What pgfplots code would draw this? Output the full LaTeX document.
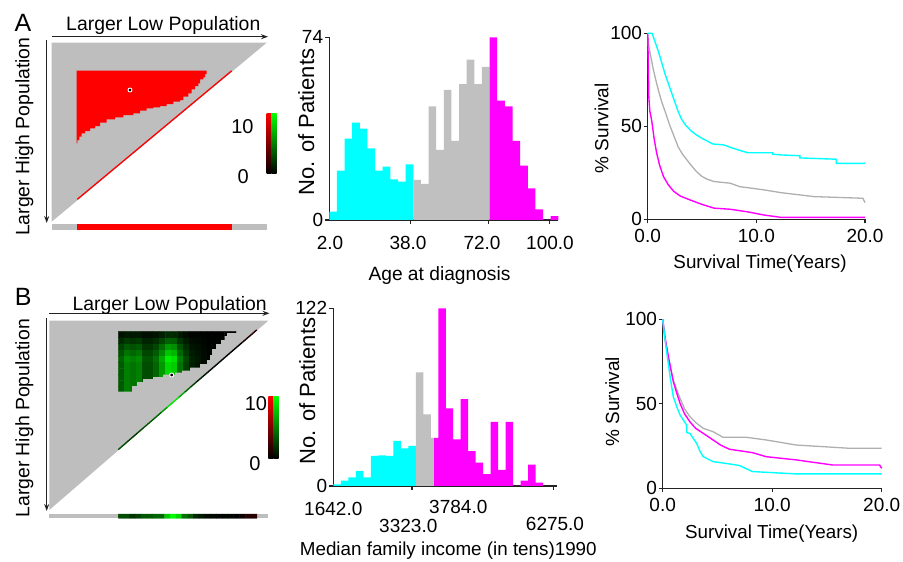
\documentclass[border=0pt]{standalone}
\usepackage{fontspec}
\setmainfont{Liberation Sans}
\usepackage{pgfplots}
\pgfplotsset{compat=1.18}
\usetikzlibrary{arrows.meta}

\definecolor{xcyan}{RGB}{0,255,255}
\definecolor{xmag}{RGB}{255,0,255}
\definecolor{xgray}{RGB}{192,192,192}
\definecolor{tgray}{RGB}{190,190,190}
\definecolor{sgray}{RGB}{175,175,175}
\definecolor{axcol}{RGB}{35,35,35}

\newcommand{\fs}[1]{\fontsize{#1}{#1}\selectfont}

\tikzset{arr/.style={axcol, line width=1.2pt, -{Stealth[length=7pt,width=5pt]}}}

\pgfplotsset{
  panel/.style={
    scale only axis, anchor=south west, axis lines*=left, clip=false,
    axis line style={axcol, line width=1.3pt},
    tick style={axcol, line width=1.1pt},
    tick align=outside, major tick length=4pt,
    every tick label/.append style={font=\fs{19}, text=black},
    /pgf/number format/assume math mode=true,
  },
  hist/.style={panel, xticklabels={}, yticklabel style={inner sep=0pt, xshift=-2pt}},
  surv/.style={panel, xmin=0, xmax=20, ymin=0, ymax=100, xtick={0,10,20},
    xticklabels={0.0,10.0,20.0}, ytick={0,50,100},
    yticklabel style={inner sep=0pt, xshift=-1.5pt}, xticklabel style={inner sep=0pt, yshift=-5.5pt}},
  dot/.style={only marks, mark=*, mark size=2pt, mark options={fill=black, draw=white, line width=0.9pt}},
}

\begin{document}
\begin{tikzpicture}
\path[use as bounding box] (0,0) rectangle (903pt,562pt);

% canvas axis in image pixels (y downwards) for the X-tile triangles and all free text
\begin{axis}[scale only axis, anchor=south west, at={(0pt,0pt)}, width=903pt, height=562pt,
  xmin=0, xmax=903, ymin=0, ymax=562, y dir=reverse, axis lines=none, clip=false,
  colormap={xtile}{rgb255=(255,0,0) rgb255=(0,0,0) rgb255=(0,255,0)},
  point meta min=-10, point meta max=10]

% ---------- panel A triangle ----------
\addplot[fill=tgray, draw=none] coordinates {(51.7,42.7) (266.7,42.7) (51.7,221.7)};
\addplot[fill=red, draw=none] coordinates {(76.7,70.7) (206.7,70.7) (206.7,74) (205,74) (205,77.3) (203.3,77.3) (203.3,79.3) (200,79.3) (200,83.3) (198.3,83.3) (198.3,86) (195,86) (195,89.3) (191.7,89.3) (191.7,93.3) (188.3,93.3) (188.3,96.7) (183.3,96.7) (183.3,100) (180,100) (180,101.7) (173.3,101.7) (173.3,104) (166.7,104) (166.7,106) (160,106) (160,107.3) (153.3,107.3) (153.3,108.3) (146.7,108.3) (146.7,110.7) (140,110.7) (140,113.3) (133.3,113.3) (133.3,115) (123.3,115) (123.3,117.3) (115,117.3) (115,119.3) (106.7,119.3) (106.7,122.7) (100,122.7) (100,126) (95,126) (95,128.3) (90,128.3) (90,131) (85,131) (85,133.3) (81.7,133.3) (81.7,136.7) (79.3,136.7) (79.3,140) (77.3,140) (77.3,143.3) (76.7,143.3)};
\addplot[red, line width=1.3pt] coordinates {(77.3,199.3) (231.7,70.8)};
\addplot[dot] coordinates {(130,90)};
\addplot[fill=tgray, draw=none] coordinates {(51.7,224) (266.7,224) (266.7,229.5) (51.7,229.5)};
\addplot[fill=red, draw=none] coordinates {(76.7,224) (231.7,224) (231.7,229.5) (76.7,229.5)};
\addplot[draw=none, top color=red, bottom color=black] coordinates {(266.7,113.3) (271.7,113.3) (271.7,173.3) (266.7,173.3)};
\addplot[draw=none, top color=green, bottom color=black] coordinates {(271.7,113.3) (276.7,113.3) (276.7,173.3) (271.7,173.3)};
\draw[arr] (axis cs:51.7,36.7) -- (axis cs:268,36.7);
\draw[arr] (axis cs:46.7,40) -- (axis cs:46.7,223);

% ---------- panel B triangle ----------
\addplot[fill=tgray, draw=none] coordinates {(49.3,320.7) (268.3,320.7) (49.3,510)};
\addplot[matrix plot*, mesh/cols=20, point meta=explicit] coordinates {
(121.2,334.7)[0.7] (127.1,334.7)[1] (133.0,334.7)[0.9] (138.9,334.7)[1] (144.8,334.7)[0.6] (150.7,334.7)[0.6] (156.6,334.7)[0.8] (162.5,334.7)[1.2] (168.4,334.7)[1.7] (174.3,334.7)[1.6] (180.2,334.7)[0.9] (186.1,334.7)[0.5] (192.0,334.7)[0.2] (197.9,334.7)[0.2] (203.8,334.7)[0.1] (209.7,334.7)[0] (215.6,334.7)[0] (221.5,334.7)[0] (227.4,334.7)[0] (233.3,334.7)[0]
(121.2,340.8)[1.6] (127.1,340.8)[2.3] (133.0,340.8)[2] (138.9,340.8)[2.3] (144.8,340.8)[1.4] (150.7,340.8)[1.4] (156.6,340.8)[1.8] (162.5,340.8)[2.7] (168.4,340.8)[3.8] (174.3,340.8)[3.6] (180.2,340.8)[2] (186.1,340.8)[1.1] (192.0,340.8)[0.5] (197.9,340.8)[0.4] (203.8,340.8)[0.2] (209.7,340.8)[0.1] (215.6,340.8)[0.1] (221.5,340.8)[0.1] (227.4,340.8)[0.1] (233.3,340.8)[0.1]
(121.2,346.9)[2.5] (127.1,346.9)[3.5] (133.0,346.9)[3.2] (138.9,346.9)[3.5] (144.8,346.9)[2.1] (150.7,346.9)[2.1] (156.6,346.9)[2.8] (162.5,346.9)[4.2] (168.4,346.9)[6] (174.3,346.9)[5.6] (180.2,346.9)[3.2] (186.1,346.9)[1.8] (192.0,346.9)[0.8] (197.9,346.9)[0.6] (203.8,346.9)[0.3] (209.7,346.9)[0.1] (215.6,346.9)[0.1] (221.5,346.9)[0.1] (227.4,346.9)[0.1] (233.3,346.9)[0.1]
(121.2,353.0)[3.2] (127.1,353.0)[4.5] (133.0,353.0)[4.1] (138.9,353.0)[4.5] (144.8,353.0)[2.7] (150.7,353.0)[2.7] (156.6,353.0)[3.6] (162.5,353.0)[5.4] (168.4,353.0)[7.7] (174.3,353.0)[7.2] (180.2,353.0)[4.1] (186.1,353.0)[2.3] (192.0,353.0)[1.1] (197.9,353.0)[0.7] (203.8,353.0)[0.4] (209.7,353.0)[0.2] (215.6,353.0)[0.2] (221.5,353.0)[0.2] (227.4,353.0)[0.2] (233.3,353.0)[0.2]
(121.2,359.1)[3.9] (127.1,359.1)[5.5] (133.0,359.1)[5] (138.9,359.1)[5.5] (144.8,359.1)[3.3] (150.7,359.1)[3.3] (156.6,359.1)[4.4] (162.5,359.1)[6.6] (168.4,359.1)[9.4] (174.3,359.1)[8.8] (180.2,359.1)[5] (186.1,359.1)[2.8] (192.0,359.1)[1.3] (197.9,359.1)[0.9] (203.8,359.1)[0.4] (209.7,359.1)[0.2] (215.6,359.1)[0.2] (221.5,359.1)[0.2] (227.4,359.1)[0.2] (233.3,359.1)[0.2]
(121.2,365.2)[3.5] (127.1,365.2)[5] (133.0,365.2)[4.5] (138.9,365.2)[5] (144.8,365.2)[3] (150.7,365.2)[3] (156.6,365.2)[4] (162.5,365.2)[6] (168.4,365.2)[8.5] (174.3,365.2)[8] (180.2,365.2)[4.5] (186.1,365.2)[2.5] (192.0,365.2)[1.2] (197.9,365.2)[0.8] (203.8,365.2)[0.4] (209.7,365.2)[0.2] (215.6,365.2)[0.2] (221.5,365.2)[0.2] (227.4,365.2)[0.2] (233.3,365.2)[0.2]
(121.2,371.3)[3.5] (127.1,371.3)[5] (133.0,371.3)[4.5] (138.9,371.3)[5] (144.8,371.3)[3] (150.7,371.3)[3] (156.6,371.3)[4] (162.5,371.3)[6] (168.4,371.3)[8.5] (174.3,371.3)[8] (180.2,371.3)[4.5] (186.1,371.3)[2.5] (192.0,371.3)[1.2] (197.9,371.3)[0.8] (203.8,371.3)[0.4] (209.7,371.3)[0.2] (215.6,371.3)[0.2] (221.5,371.3)[0.2] (227.4,371.3)[0.2] (233.3,371.3)[0.2]
(121.2,377.4)[3.5] (127.1,377.4)[5] (133.0,377.4)[4.5] (138.9,377.4)[5] (144.8,377.4)[3] (150.7,377.4)[3] (156.6,377.4)[4] (162.5,377.4)[6] (168.4,377.4)[8.5] (174.3,377.4)[8] (180.2,377.4)[4.5] (186.1,377.4)[2.5] (192.0,377.4)[1.2] (197.9,377.4)[0.8] (203.8,377.4)[0.4] (209.7,377.4)[0.2] (215.6,377.4)[0.2] (221.5,377.4)[0.2] (227.4,377.4)[0.2] (233.3,377.4)[0.2]
(121.2,383.5)[3.5] (127.1,383.5)[5] (133.0,383.5)[4.5] (138.9,383.5)[5] (144.8,383.5)[3] (150.7,383.5)[3] (156.6,383.5)[4] (162.5,383.5)[6] (168.4,383.5)[8.5] (174.3,383.5)[8] (180.2,383.5)[4.5] (186.1,383.5)[2.5] (192.0,383.5)[1.2] (197.9,383.5)[0.8] (203.8,383.5)[0.4] (209.7,383.5)[0.2] (215.6,383.5)[0.2] (221.5,383.5)[0.2] (227.4,383.5)[0.2] (233.3,383.5)[0.2]
(121.2,389.6)[3.5] (127.1,389.6)[5] (133.0,389.6)[4.5] (138.9,389.6)[5] (144.8,389.6)[3] (150.7,389.6)[3] (156.6,389.6)[4] (162.5,389.6)[6] (168.4,389.6)[8.5] (174.3,389.6)[8] (180.2,389.6)[4.5] (186.1,389.6)[2.5] (192.0,389.6)[1.2] (197.9,389.6)[0.8] (203.8,389.6)[0.4] (209.7,389.6)[0.2] (215.6,389.6)[0.2] (221.5,389.6)[0.2] (227.4,389.6)[0.2] (233.3,389.6)[0.2]
};
% cut the staircase edge of the green block, then clear what lies past the diagonal
\addplot[fill=tgray, draw=none] coordinates {(236.3,331.65) (236.3,333) (227,333) (227,336) (224.5,336) (224.5,340) (221,340) (221,344) (216,344) (216,349) (212,349) (212,355) (210,355) (210,360) (207,360) (207,364) (200,364) (200,367.5) (190,367.5) (190,370.5) (182,370.5) (182,372.5) (175,372.5) (175,374.5) (163,374.5) (163,377) (153,377) (153,379) (143,379) (143,382) (137,382) (137,386) (132,386) (132,391.7) (117.8,391.7) (117.8,393.5) (237,393.5) (237,331.65)};
\addplot[fill=white, draw=none] coordinates {(176.6,400) (239,400) (239,346.1)};
\addplot[mesh, point meta=explicit, line width=1.4pt] coordinates {(118.3,449.6)[3] (121.2,447.1)[3] (127.0,442.0)[3] (132.7,437.1)[2] (138.5,432.1)[2.5] (144.3,427.1)[3.5] (150.0,422.2)[3.5] (155.8,417.2)[4] (161.6,412.1)[4] (167.4,407.1)[8] (173.1,402.2)[10] (178.9,397.2)[8.5] (184.7,392.2)[4.5] (190.4,387.2)[3.5] (196.2,382.2)[1.5] (202.0,377.2)[1] (207.7,372.3)[0.5] (213.5,367.3)[0.3] (219.3,362.3)[0.2] (225.0,357.3)[0.2] (230.8,352.3)[0.2] (236.6,347.3)[0] (242.4,342.3)[-0.5] (248.1,337.4)[-1.5] (253.9,332.4)[-1.5] (256.7,329.9)[-1.5]};
\addplot[dot] coordinates {(171.7,375)};
\addplot[fill=tgray, draw=none] coordinates {(49.3,514) (268.3,514) (268.3,518.3) (49.3,518.3)};
\addplot[matrix plot*, mesh/cols=24, point meta=explicit] coordinates {
(121.2,515.1)[3] (127.0,515.1)[3] (132.7,515.1)[2] (138.5,515.1)[2.5] (144.3,515.1)[3.5] (150.0,515.1)[3.5] (155.8,515.1)[4] (161.6,515.1)[4] (167.4,515.1)[8] (173.1,515.1)[10] (178.9,515.1)[8.5] (184.7,515.1)[4.5] (190.4,515.1)[3.5] (196.2,515.1)[1.5] (202.0,515.1)[1] (207.7,515.1)[0.5] (213.5,515.1)[0.3] (219.3,515.1)[0.2] (225.0,515.1)[0.2] (230.8,515.1)[0.2] (236.6,515.1)[0] (242.4,515.1)[-0.5] (248.1,515.1)[-1.5] (253.9,515.1)[-1.5]
(121.2,517.2)[3] (127.0,517.2)[3] (132.7,517.2)[2] (138.5,517.2)[2.5] (144.3,517.2)[3.5] (150.0,517.2)[3.5] (155.8,517.2)[4] (161.6,517.2)[4] (167.4,517.2)[8] (173.1,517.2)[10] (178.9,517.2)[8.5] (184.7,517.2)[4.5] (190.4,517.2)[3.5] (196.2,517.2)[1.5] (202.0,517.2)[1] (207.7,517.2)[0.5] (213.5,517.2)[0.3] (219.3,517.2)[0.2] (225.0,517.2)[0.2] (230.8,517.2)[0.2] (236.6,517.2)[0] (242.4,517.2)[-0.5] (248.1,517.2)[-1.5] (253.9,517.2)[-1.5]
};
\addplot[draw=none, top color=red, bottom color=black] coordinates {(268.3,396.5) (273.3,396.5) (273.3,458.3) (268.3,458.3)};
\addplot[draw=none, top color=green, bottom color=black] coordinates {(273.3,396.5) (278.5,396.5) (278.5,458.3) (273.3,458.3)};
\draw[arr] (axis cs:49.3,313.3) -- (axis cs:269.5,313.3);
\draw[arr] (axis cs:46.7,318.3) -- (axis cs:46.7,511);

% ---------- free text ----------
\node[font=\fs{25}, anchor=base] at (axis cs:23,31.7) {A};
\node[font=\fs{25}, anchor=base] at (axis cs:23.3,305) {B};
\node[font=\fs{19.4}, anchor=base] at (axis cs:163.3,30.7) {Larger Low Population};
\node[font=\fs{19.4}, anchor=base] at (axis cs:169.7,310.7) {Larger Low Population};
\node[font=\fs{19.4}, anchor=base, rotate=90] at (axis cs:29.3,136.7) {Larger High Population};
\node[font=\fs{19.4}, anchor=base, rotate=90] at (axis cs:29.3,418.3) {Larger High Population};
\node[font=\fs{20}, anchor=base] at (axis cs:242.5,133) {10};
\node[font=\fs{20}, anchor=base] at (axis cs:243.3,183) {0};
\node[font=\fs{20}, anchor=base] at (axis cs:256,410) {10};
\node[font=\fs{20}, anchor=base] at (axis cs:255,470) {0};
\node[font=\fs{22}, anchor=base, rotate=90] at (axis cs:314,122) {No. of Patients};
\node[font=\fs{22}, anchor=base, rotate=90] at (axis cs:315,391) {No. of Patients};
\node[font=\fs{19}, anchor=base] at (axis cs:330,249.5) {2.0};
\node[font=\fs{19}, anchor=base] at (axis cs:408,249.5) {38.0};
\node[font=\fs{19}, anchor=base] at (axis cs:482,249.5) {72.0};
\node[font=\fs{19}, anchor=base] at (axis cs:550,249.5) {100.0};
\node[font=\fs{19.2}, anchor=base] at (axis cs:439.5,280) {Age at diagnosis};
\node[font=\fs{19}, anchor=base] at (axis cs:333.3,515) {1642.0};
\node[font=\fs{19}, anchor=base] at (axis cs:458.3,513.3) {3784.0};
\node[font=\fs{19}, anchor=base] at (axis cs:408.3,532.7) {3323.0};
\node[font=\fs{19}, anchor=base] at (axis cs:555,530) {6275.0};
\node[font=\fs{18.8}, anchor=base] at (axis cs:448.3,555.7) {Median family income (in tens)1990};
\node[font=\fs{19}, anchor=base, rotate=90] at (axis cs:608.3,128.3) {\% Survival};
\node[font=\fs{19}, anchor=base, rotate=90] at (axis cs:619,401.7) {\% Survival};
\node[font=\fs{18.8}, anchor=base] at (axis cs:760,268.3) {Survival Time(Years)};
\node[font=\fs{18.8}, anchor=base] at (axis cs:771.7,538.3) {Survival Time(Years)};
\end{axis}

% ---------- histogram A ----------
\begin{axis}[hist, at={(329.3pt,342pt)}, width=229pt, height=182.7pt,
  xmin=0, xmax=30, ymin=0, ymax=74, ytick={0,74}, xtick={10.66,20.8,28.8}]
\addplot[ybar interval, fill=xcyan, draw=none] coordinates {(0,3.4) (1,20) (2,33) (3,39.4) (4,37) (5,29) (6,20) (7,21.6) (8,16.5) (9,15.5) (10,22.5) (11,0)};
\addplot[ybar interval, fill=xgray, draw=none] coordinates {(11,16.2) (12,14.6) (13,46) (14,28.4) (15,52.7) (16,32) (17,55) (18,65) (19,55) (20,62) (21,0)};
\addplot[ybar interval, fill=xmag, draw=none] coordinates {(21,74) (22,48.3) (23,46) (24,32) (25,22) (26,12.8) (27,4.3) (28,0) (29,1.6) (30,0)};
\end{axis}

% ---------- histogram B ----------
\begin{axis}[hist, at={(333.3pt,76pt)}, width=223.4pt, height=177.7pt,
  xmin=0, xmax=29.8, ymin=0, ymax=122, ytick={0,122}, xtick={10.5,29.4}]
\addplot[ybar interval, fill=xcyan, draw=none] coordinates {(0,1.1) (1,3.7) (2,6) (3,10.3) (4,6) (5,20.6) (6,21) (7,20.6) (8,30.9) (9,25.9) (10,27.5) (11,0)};
\addplot[ybar interval, fill=xgray, draw=none] coordinates {(11,78) (12,49.2) (13,33) (13.45,0)};
\addplot[ybar interval, fill=xmag, draw=none] coordinates {(13.45,33) (14,122) (15,53.3) (16,32) (17,59.7) (18,24) (19,16) (20,8.2) (21,44) (22,11) (23,44) (24,0) (25,3.7) (26,14.6) (27,2.3) (28,0)};
\end{axis}

% ---------- survival A ----------
\begin{axis}[surv, at={(647.7pt,342.7pt)}, width=217.3pt, height=186pt]
\addplot[sgray, line width=1.3pt] coordinates {(0,100) (0.1,93) (0.3,87) (0.5,81) (0.7,76) (1.0,69) (1.3,63) (1.6,58) (2.0,51) (2.4,45) (2.8,39) (3.2,35) (3.6,32) (4.0,29) (4.5,25.6) (5.0,23) (5.5,21.5) (6.1,20.3) (7.6,19.4) (8.5,17.5) (9.2,17) (10.7,15.8) (12.3,14.3) (15.3,12.2) (19.8,11.3) (20,9)};
\addplot[xmag, line width=1.4pt] coordinates {(0,100) (0.05,85) (0.1,66) (0.2,58) (0.37,53) (0.6,43) (0.83,35.5) (1.1,29) (1.45,23) (1.9,18.5) (2.4,15) (3.0,12.5) (3.9,10.4) (5.0,8) (6.1,6) (7.6,5.4) (9.2,4) (10.7,2.3) (12.3,1) (20,1)};
\addplot[xcyan, line width=1.4pt] coordinates {(0,100) (0.4,100) (0.7,95) (1.0,90) (1.3,84) (1.6,78) (1.9,73) (2.2,68) (2.5,63) (2.8,58) (3.1,54) (3.5,50.5) (4.0,47.5) (4.5,45.3) (5.0,43.5) (5.5,42) (6.0,40.5) (7.0,40) (7.6,38.7) (8.5,37) (9.2,35.8) (11.5,35.8) (11.5,35) (12.3,34.6) (14.0,34.2) (14.0,33) (17.35,32.3) (17.35,30.1) (20,30.1)};
\end{axis}

% ---------- survival B ----------
\begin{axis}[surv, at={(662.7pt,73.7pt)}, width=219pt, height=169pt]
\addplot[sgray, line width=1.3pt] coordinates {(0,100) (0.15,90) (0.36,82) (0.6,74) (0.97,64) (1.3,58) (1.58,53.3) (2.0,47) (2.48,42.4) (3.0,39) (3.7,35.5) (4.6,33.5) (5.5,30.2) (7.6,30.2) (9.45,28.6) (12.2,25.6) (17,23.7) (20,23.7)};
\addplot[xmag, line width=1.4pt] coordinates {(0,100) (0.25,88) (0.52,78) (0.97,63) (1.3,56) (1.58,50.3) (2.0,44) (2.48,39.4) (3.0,35.5) (3.7,32.5) (4.6,28.6) (5.3,25.5) (6.1,23.1) (8.2,21.1) (9.45,18.7) (12.2,16.8) (15.5,13.8) (19.8,13.8) (20,11.8)};
\addplot[xcyan, line width=1.4pt] coordinates {(0,100) (0.2,89) (0.42,78) (0.7,65) (0.97,54) (1.3,48) (1.58,43.4) (2.18,37.5) (2.2,33) (2.48,32.5) (3.1,26.6) (3.4,22) (3.7,18.7) (4.6,15.8) (6.1,14.4) (7,13.5) (8.2,9.9) (12.2,8.5) (20,8.5)};
\end{axis}
\end{tikzpicture}
\end{document}
